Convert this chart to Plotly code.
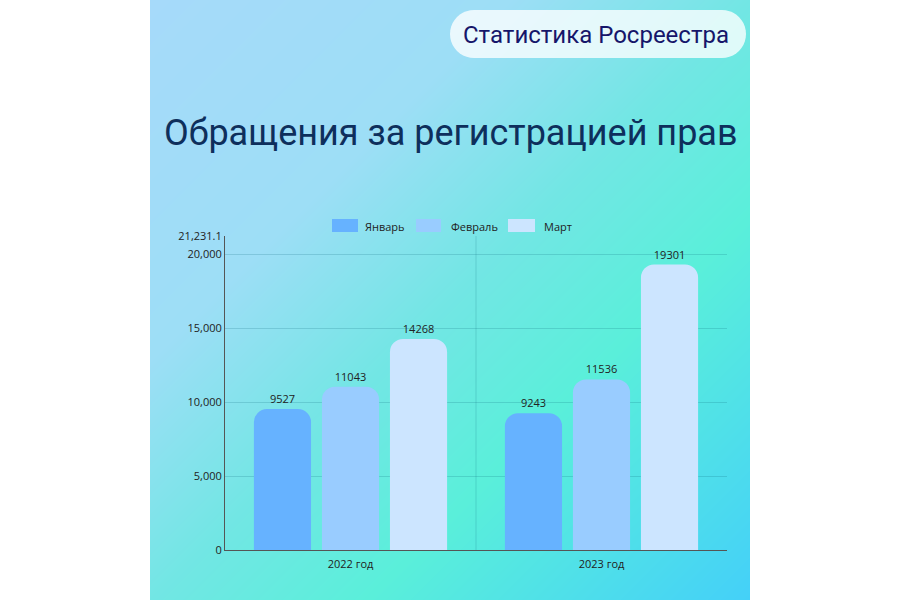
import plotly.graph_objects as go
import math

# ---- data ----
years = ["2022 год", "2023 год"]
months = ["Январь", "Февраль", "Март"]
jan = [9527, 9243]
feb = [11043, 11536]
mar = [14268, 19301]
series = [jan, feb, mar]
y_max = 21231.1
tick_vals = [0, 5000, 10000, 15000, 20000, y_max]
tick_text = ["0", "5,000", "10,000", "15,000", "20,000", "21,231.1"]

colors = ["#66b2ff", "#99ccff", "#cce5ff"]
W, H = 900, 600

def px_x(p):
    return p / W

def px_y(p):
    return 1 - p / H

fig = go.Figure()

# background gradient panel (styling only)
gx = [0, 100, 200, 300, 400, 500, 600]
gy = [0, 100, 200, 300, 400, 500, 600]
gz = [[(a + b) / 1200 for a in gx] for b in gy]
fig.add_trace(go.Heatmap(
    x=gx, y=gy, z=gz, zmin=0, zmax=1, zsmooth="best",
    colorscale=[[0, "#a6dafa"], [0.3, "#9ddef6"], [0.5, "#72e6e4"],
                [0.68, "#5aefda"], [1, "#44d0f8"]],
    showscale=False, hoverinfo="skip", xaxis="x", yaxis="y"))

for name, vals, col in zip(months, series, colors):
    fig.add_trace(go.Bar(
        x=years, y=vals, name=name, marker=dict(color=col, cornerradius=13, line=dict(width=0)),
        text=[str(v) for v in vals], texttemplate="%{text}", textposition="outside",
        textfont=dict(family="Open Sans", size=11, color="#222222"),
        cliponaxis=False, showlegend=False, xaxis="x2", yaxis="y2"))

shapes = []
annotations = []

def rounded_rect(x0, y0, x1, y1, r, n=10):
    pts = []
    corners = [(x1 - r, y0 + r, -90, 0), (x1 - r, y1 - r, 0, 90),
               (x0 + r, y1 - r, 90, 180), (x0 + r, y0 + r, 180, 270)]
    for cx, cy, a0, a1 in corners:
        for i in range(n + 1):
            a = math.radians(a0 + (a1 - a0) * i / n)
            pts.append((cx + r * math.cos(a), cy + r * math.sin(a)))
    return "M " + " L ".join(f"{px_x(x):.5f},{px_y(y):.5f}" for x, y in pts) + " Z"

shapes.append(dict(type="path", xref="paper", yref="paper",
                   path=rounded_rect(450, 10, 746, 58, 24),
                   fillcolor="rgba(255,255,255,0.78)", line=dict(width=0), layer="above"))
annotations.append(dict(text="Статистика Росреестра", xref="paper", yref="paper",
                        x=px_x(596), y=px_y(35), showarrow=False, xanchor="center", yanchor="middle",
                        font=dict(family="Roboto", size=24, color="#16166a")))

annotations.append(dict(text="Обращения за регистрацией прав", xref="paper", yref="paper",
                        x=px_x(451), y=px_y(133), showarrow=False, xanchor="center", yanchor="middle",
                        font=dict(family="Roboto", size=36, color="#0e2f5c")))

leg = [(332, 358, 363), (416, 441, 449), (508, 535, 542)]
for (sx0, sx1, tx), name, col in zip(leg, months, colors):
    shapes.append(dict(type="rect", xref="paper", yref="paper",
                       x0=px_x(sx0), x1=px_x(sx1), y0=px_y(232), y1=px_y(219),
                       fillcolor=col, line=dict(width=0)))
    annotations.append(dict(text=name, xref="paper", yref="paper", x=px_x(tx), y=px_y(226),
                            showarrow=False, xanchor="left", yanchor="middle",
                            font=dict(family="Open Sans", size=11, color="#222222")))

shapes.append(dict(type="line", xref="x2", yref="y2", x0=0.5, x1=0.5, y0=0, y1=y_max,
                   line=dict(color="rgba(0,90,110,0.18)", width=1), layer="below"))

fig.update_layout(
    width=W, height=H, margin=dict(l=0, r=0, t=0, b=0, autoexpand=False),
    paper_bgcolor="white", plot_bgcolor="rgba(0,0,0,0)",
    barmode="group", bargap=0.187, bargroupgap=0.16,
    shapes=shapes, annotations=annotations,
    xaxis=dict(domain=[px_x(150), px_x(750)], range=[0, 600], visible=False,
               fixedrange=True, automargin=False),
    yaxis=dict(domain=[0, 1], range=[600, 0], visible=False,
               fixedrange=True, automargin=False),
    xaxis2=dict(domain=[px_x(225), px_x(727)], anchor="y2", showgrid=False,
                showline=True, linecolor="#555555", linewidth=1, ticks="", automargin=False,
                ticklabelstandoff=4,
                tickfont=dict(family="Open Sans", size=11, color="#222222")),
    yaxis2=dict(domain=[50 / H, 364 / H], anchor="x2", range=[0, y_max],
                tickvals=tick_vals, ticktext=tick_text, showgrid=True,
                gridcolor="rgba(0,90,110,0.18)", gridwidth=1, zeroline=False,
                showline=True, linecolor="#555555", linewidth=1, ticks="", automargin=False,
                tickfont=dict(family="Open Sans", size=11, color="#222222")),
    font=dict(family="Open Sans"),
)

fig.write_html("out.html",
               post_script="document.documentElement.style.margin='0';document.body.style.margin='0';")
